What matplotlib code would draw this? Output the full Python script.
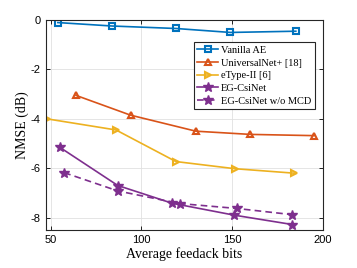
import matplotlib
matplotlib.use('Agg')
import matplotlib.pyplot as plt

# Data
x_vanilla = [54, 84, 119, 149, 185]
y_vanilla = [-0.1, -0.24, -0.34, -0.5, -0.45]

x_universal = [64, 94, 130, 160, 195]
y_universal = [-3.05, -3.85, -4.5, -4.63, -4.68]

x_etype = [48, 86, 119, 151.5, 184]
y_etype = [-4.0, -4.45, -5.73, -6.02, -6.2]

x_eg = [55, 87, 117, 151, 183]
y_eg = [-5.15, -6.7, -7.42, -7.9, -8.28]

x_eg_nomcd = [57.5, 87, 121, 152.5, 183]
y_eg_nomcd = [-6.18, -6.92, -7.43, -7.63, -7.88]

x_ticks = [50, 100, 150, 200]
y_ticks = [-8, -6, -4, -2, 0]

serif = ['Liberation Serif', 'DejaVu Serif']
sans = ['Liberation Sans', 'DejaVu Sans']

fig = plt.figure(figsize=(3.57, 2.68), dpi=100)
ax = fig.add_axes([0.129, 0.142, 0.776, 0.783])

ax.plot(x_vanilla, y_vanilla, '-s', color='#0072BD', lw=1.2, ms=4,
        markerfacecolor='none', markeredgewidth=1.5, label='Vanilla AE')
ax.plot(x_universal, y_universal, '-^', color='#D95319', lw=1.2, ms=5,
        markerfacecolor='none', markeredgewidth=1.5, label='UniversalNet+ [18]')
ax.plot(x_etype, y_etype, '->', color='#EDB120', lw=1.2, ms=5,
        markerfacecolor='none', markeredgewidth=1.5, label='eType-II [6]')
ax.plot(x_eg, y_eg, '-*', color='#7E2F8E', lw=1.2, ms=7, label='EG-CsiNet')
ax.plot(x_eg_nomcd, y_eg_nomcd, '--*', color='#7E2F8E', lw=1.2, ms=7,
        dashes=(4, 2.5), label='EG-CsiNet w/o MCD')

ax.set_xlim(47.5, 200)
ax.set_ylim(-8.5, 0)
ax.set_xticks(x_ticks)
ax.set_yticks(y_ticks)
ax.set_xticklabels([str(t) for t in x_ticks], family=sans, fontsize=8)
ax.set_yticklabels([str(t) for t in y_ticks], family=sans, fontsize=8)
ax.tick_params(direction='in', top=True, right=True, length=3, width=0.6, pad=4)
ax.grid(True, color='#e0e0e0', lw=0.6)
ax.set_axisbelow(True)
for s in ax.spines.values():
    s.set_linewidth(0.8)
    s.set_color('#262626')

ax.set_xlabel('Average feedack bits', family=serif, fontsize=10, labelpad=1)
ax.set_ylabel('NMSE (dB)', family=serif, fontsize=10, labelpad=1)

leg = ax.legend(loc='upper right', bbox_to_anchor=(0.971, 0.895),
                borderaxespad=0,
                prop={'family': serif, 'size': 7.5}, handlelength=2.0,
                handletextpad=0.3, borderpad=0.35, labelspacing=0.32,
                fancybox=False, edgecolor='#262626', framealpha=1)
leg.get_frame().set_linewidth(0.8)

fig.savefig('out.png', dpi=100)
